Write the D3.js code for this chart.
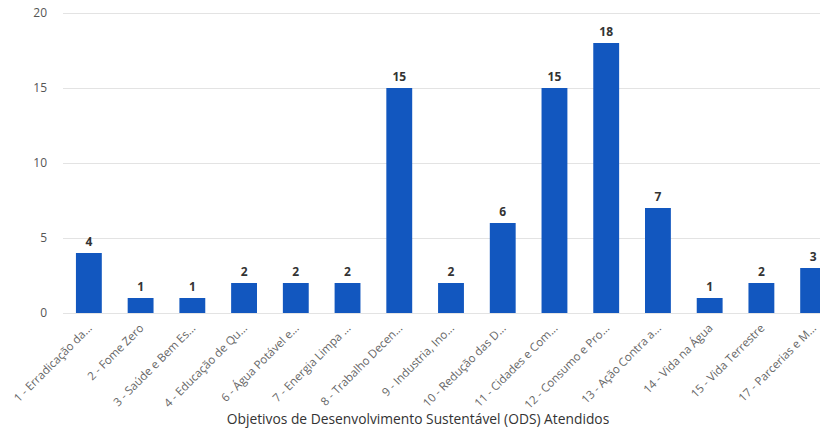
<html>
<script src="https://d3js.org/d3.v7.min.js"></script>
<body style="margin:0;background:#fff"></body>
<script>
const categories = ["1 - Erradicação da...", "2 - Fome Zero", "3 - Saúde e Bem Es...", "4 - Educação de Qu...",
  "6 - Água Potável e...", "7 - Energia Limpa ...", "8 - Trabalho Decen...", "9 - Industria, Ino...",
  "10 - Redução das D...", "11 - Cidades e Com...", "12 - Consumo e Pro...", "13 - Ação Contra a...",
  "14 - Vida na Água", "15 - Vida Terrestre", "17 - Parcerias e M..."];
const values = [4, 1, 1, 2, 2, 2, 15, 2, 6, 15, 18, 7, 1, 2, 3];
const yTicks = [0, 5, 10, 15, 20];
const axisTitle = "Objetivos de Desenvolvimento Sustentável (ODS) Atendidos";

const width = 820;
const height = 428;
const font = "'Open Sans', sans-serif";

const svg = d3.select('body')
  .append('svg')
  .attr('width', width)
  .attr('height', height)
  .style('font-family', font);

const x = d3.scaleBand()
  .domain(categories)
  .range([63, 839])
  .paddingInner(0.5)
  .paddingOuter(0.25);

const y = d3.scaleLinear()
  .domain([0, 20])
  .range([313, 13]);

// gridlines + y labels
svg.append('g')
  .attr('transform', 'translate(63,0)')
  .call(d3.axisLeft(y).tickValues(yTicks).tickSize(-(width - 63)).tickPadding(16))
  .call(g => {
    g.select('.domain').remove();
    g.selectAll('line').attr('stroke', '#e3e3e3');
    g.selectAll('text')
      .attr('fill', '#555')
      .style('font-size', '12px')
      .style('font-family', font);
  });

// bars
svg.append('g')
  .selectAll('rect')
  .data(values)
  .join('rect')
  .attr('x', (d, i) => x(categories[i]))
  .attr('y', d => y(d))
  .attr('width', x.bandwidth())
  .attr('height', d => y(0) - y(d))
  .attr('fill', '#1257bf');

// value labels
svg.append('g')
  .selectAll('text')
  .data(values)
  .join('text')
  .attr('x', (d, i) => x(categories[i]) + x.bandwidth() / 2)
  .attr('y', d => y(d) - 7)
  .attr('text-anchor', 'middle')
  .attr('fill', '#333')
  .style('font-size', '12px')
  .style('font-weight', 'bold')
  .text(d => d);

// x labels
svg.append('g')
  .selectAll('text')
  .data(categories)
  .join('text')
  .attr('transform', d => `translate(${x(d) + x.bandwidth() / 2 + 1},${y(0) + 13}) rotate(-45)`)
  .attr('text-anchor', 'end')
  .attr('dy', '0.35em')
  .attr('fill', '#666')
  .style('font-size', '11.5px')
  .text(d => d);

// axis title
svg.append('text')
  .attr('x', 418)
  .attr('y', 424)
  .attr('text-anchor', 'middle')
  .attr('fill', '#333')
  .style('font-size', '13.8px')
  .text(axisTitle);
</script>
</html>
